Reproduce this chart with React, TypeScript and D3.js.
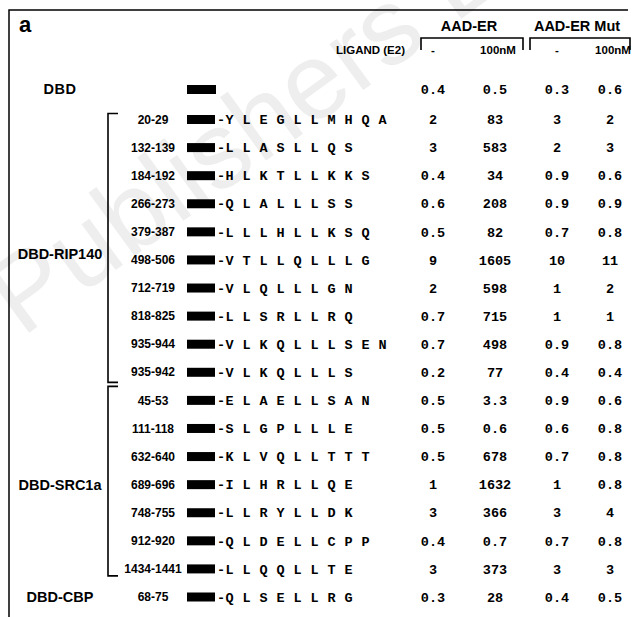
import React, { Component } from 'react';
import * as d3 from "d3";

// peptide rows
const ranges = ["20-29", "132-139", "184-192", "266-273", "379-387", "498-506", "712-719", "818-825", "935-944", "935-942",
  "45-53", "111-118", "632-640", "689-696", "748-755", "912-920", "1434-1441", "68-75"];
const motifs = ["YLEGLLMHQA", "LLASLLQS", "HLKTLLKKS", "QLALLLSS", "LLLHLLKSQ", "VTLLQLLLG", "VLQLLLGN", "LLSRLLRQ", "VLKQLLLSEN", "VLKQLLLS",
  "ELAELLSAN", "SLGPLLLE", "KLVQLLTTT", "ILHRLLQE", "LLRYLLDK", "QLDELLCPP", "LLQQLLTE", "QLSELLRG"];

// fold activation values, DBD alone first
const aadNone = [0.4, 2, 3, 0.4, 0.6, 0.5, 9, 2, 0.7, 0.7, 0.2, 0.5, 0.5, 0.5, 1, 3, 0.4, 3, 0.3];
const aadE2 = [0.5, 83, 583, 34, 208, 82, 1605, 598, 715, 498, 77, 3.3, 0.6, 678, 1632, 366, 0.7, 373, 28];
const mutNone = [0.3, 3, 2, 0.9, 0.9, 0.7, 10, 1, 1, 0.9, 0.4, 0.9, 0.6, 0.7, 1, 3, 0.7, 3, 0.4];
const mutE2 = [0.6, 2, 3, 0.6, 0.9, 0.8, 11, 2, 1, 0.8, 0.4, 0.6, 0.8, 0.8, 0.8, 4, 0.8, 3, 0.5];

const columns = ["aadNone", "aadE2", "mutNone", "mutE2"];
const columnLabels = ["-", "100nM", "-", "100nM"];
const groups = [
  { name: "DBD-RIP140", labelRow: 4.8 },
  { name: "DBD-SRC1a", labelRow: 13 },
  { name: "DBD-CBP", labelRow: 17 },
];

const sans = "'Liberation Sans', Arial, sans-serif";
const mono = "'Liberation Mono', 'Courier New', monospace";

class App extends Component {

  componentDidMount() {
    const width = 634;
    const height = 617;
    const svg = d3.select(".tableSvg").attr("width", width).attr("height", height);
    svg.selectAll("*").remove();

    svg.append("rect").attr("width", width).attr("height", height).attr("fill", "white");

    // watermark
    svg.append("text")
      .attr("transform", "translate(22,338) rotate(-36)")
      .attr("font-family", sans)
      .attr("font-size", 108)
      .attr("fill", "#eeeeee")
      .text("Publishers Ltd");

    // frame
    svg.append("path").attr("d", "M9,617V10H628")
      .attr("fill", "none").attr("stroke", "black").attr("stroke-width", 1.5);

    const y = d3.scaleLinear().domain([0, ranges.length - 1]).range([119.5, 597]);
    const yDBD = 89;
    const x = d3.scaleOrdinal<string, number>().domain(columns).range([433, 495, 557, 610]);
    const values = [aadNone, aadE2, mutNone, mutE2];

    svg.append("text").attr("x", 19).attr("y", 32)
      .attr("font-family", sans).attr("font-weight", "bold").attr("font-size", 22).text("a");

    // column headers
    const heads = [{ name: "AAD-ER", x0: 421, x1: 523 }, { name: "AAD-ER Mut", x0: 530, x1: 630 }];
    heads.forEach(h => {
      svg.append("text").attr("x", (h.x0 + h.x1) / 2 - 3).attr("y", 31)
        .attr("text-anchor", "middle").attr("font-family", sans).attr("font-weight", "bold")
        .attr("font-size", 14.5).text(h.name);
      svg.append("path").attr("d", `M${h.x0},50V38H${h.x1}V50`)
        .attr("fill", "none").attr("stroke", "black").attr("stroke-width", 1.6);
    });

    svg.append("text").attr("x", 405).attr("y", 54).attr("text-anchor", "end")
      .attr("font-family", sans).attr("font-weight", "bold").attr("font-size", 11.5).text("LIGAND (E2)");

    svg.selectAll(".colHead").data(columns).join("text").attr("class", "colHead")
      .attr("x", (d, i) => i % 2 === 0 ? x(d) : x(d) + 3).attr("y", 54)
      .attr("text-anchor", "middle").attr("font-family", sans).attr("font-weight", "bold")
      .attr("font-size", 11.5).text((d, i) => columnLabels[i]);

    // DBD alone
    svg.append("text").attr("x", 60).attr("y", yDBD).attr("dy", "0.35em")
      .attr("text-anchor", "middle").attr("font-family", sans).attr("font-weight", "bold")
      .attr("font-size", 14.5).attr("letter-spacing", 0.6).text("DBD");
    svg.append("rect").attr("x", 187).attr("y", yDBD - 4).attr("width", 29).attr("height", 9).attr("fill", "black");

    // group labels and brackets
    groups.forEach(g => {
      svg.append("text").attr("x", 60).attr("y", y(g.labelRow)).attr("dy", "0.35em")
        .attr("text-anchor", "middle").attr("font-family", sans).attr("font-weight", "bold")
        .attr("font-size", 14.5).text(g.name);
    });
    const mid = (y(9) + y(10)) / 2;
    svg.append("path").attr("d", `M118,${y(0) - 6}H108V${mid - 4}H118`)
      .attr("fill", "none").attr("stroke", "black").attr("stroke-width", 1.6);
    svg.append("path").attr("d", `M118,${mid}H108V${y(16) + 7}H118`)
      .attr("fill", "none").attr("stroke", "black").attr("stroke-width", 1.6);

    // peptide rows
    const rows = svg.selectAll(".row").data(ranges).join("g").attr("class", "row")
      .attr("transform", (d, i) => `translate(0,${y(i)})`);

    rows.append("text").attr("x", 153).attr("dy", "0.35em").attr("text-anchor", "middle")
      .attr("font-family", sans).attr("font-weight", "bold").attr("font-size", 12).text(d => d);

    rows.append("rect").attr("x", 187).attr("y", -4.5).attr("width", 28).attr("height", 9).attr("fill", "black");

    rows.append("text").attr("x", 217).attr("dy", "0.35em")
      .attr("font-family", mono).attr("font-weight", "bold").attr("font-size", 13.5)
      .attr("letter-spacing", 0.4)
      .style("white-space", "pre")
      .text((d, i) => "-" + motifs[i].split("").join(" "));

    // value cells, row 0 is DBD alone
    columns.forEach((c, ci) => {
      svg.selectAll(".val-" + c).data(values[ci]).join("text").attr("class", "val-" + c)
        .attr("x", x(c))
        .attr("y", (d, i) => i === 0 ? yDBD : y(i - 1))
        .attr("dy", "0.35em").attr("text-anchor", "middle")
        .attr("font-family", mono).attr("font-weight", "bold").attr("font-size", 13.5)
        .text(d => String(d));
    });
  }

  render() {
    return (
      <svg className="tableSvg" style={{ position: "absolute", left: 0, top: 0, display: "block" }}></svg>
    );
  }
}

export default App;
